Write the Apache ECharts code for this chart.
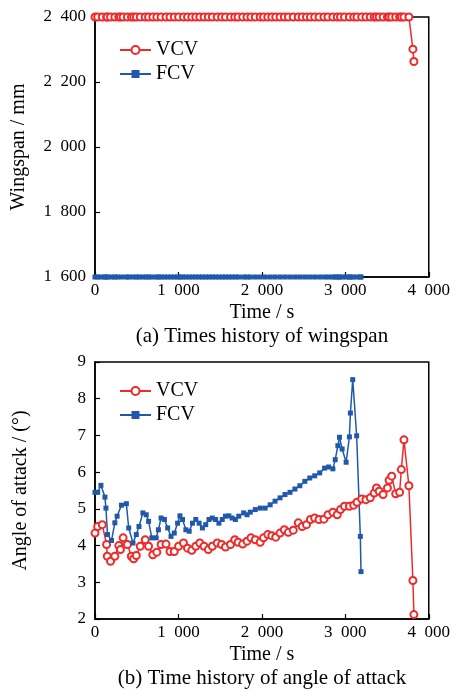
<!DOCTYPE html>
<html>
<head>
<meta charset="utf-8">
<script src="https://cdn.jsdelivr.net/npm/echarts@6/dist/echarts.min.js"></script>
<style>
  html, body { margin: 0; padding: 0; background: #fff; }
  #chart { width: 453px; height: 691px; }
</style>
</head>
<body>
<div id="chart"></div>
<script>
// sample times (s)
var vcvTime = [0, 32, 87, 139, 147, 186, 238, 285, 305, 337, 388, 436, 463, 495, 542, 602, 642, 693, 741, 792,
  851, 899, 950, 1002, 1061, 1109, 1160, 1208, 1256, 1307, 1358, 1406, 1465, 1517, 1564, 1624, 1675, 1715, 1770, 1822,
  1869, 1921, 1980, 2020, 2071, 2119, 2166, 2218, 2269, 2317, 2376, 2436, 2483, 2535, 2582, 2633, 2685, 2744, 2792, 2851,
  2903, 2942, 2990, 3049, 3101, 3140, 3196, 3247, 3299, 3346, 3374, 3406, 3453, 3505, 3525, 3556, 3604, 3651, 3671, 3703,
  3762, 3810, 3822];
var fcvTime = [0, 32, 71, 119, 131, 150, 198, 238, 265, 317, 376, 404, 455, 495, 527, 574, 614, 642, 681, 733,
  760, 792, 832, 871, 911, 950, 990, 1018, 1049, 1089, 1129, 1168, 1208, 1248, 1287, 1327, 1366, 1406, 1445, 1485,
  1525, 1564, 1604, 1643, 1683, 1723, 1782, 1822, 1861, 1921, 1980, 2039, 2099, 2158, 2218, 2277, 2337, 2396, 2455, 2515,
  2574, 2633, 2693, 2752, 2800, 2851, 2879, 2911, 2930, 2962, 3010, 3049, 3061, 3089, 3136, 3180, 3188];

// (a) wingspan, mm
var vcvSpan = [2400, 2400, 2400, 2400, 2400, 2400, 2400, 2400, 2400, 2400, 2400, 2400, 2400, 2400, 2400, 2400, 2400, 2400, 2400, 2400,
  2400, 2400, 2400, 2400, 2400, 2400, 2400, 2400, 2400, 2400, 2400, 2400, 2400, 2400, 2400, 2400, 2400, 2400, 2400, 2400,
  2400, 2400, 2400, 2400, 2400, 2400, 2400, 2400, 2400, 2400, 2400, 2400, 2400, 2400, 2400, 2400, 2400, 2400, 2400, 2400,
  2400, 2400, 2400, 2400, 2400, 2400, 2400, 2400, 2400, 2400, 2400, 2400, 2400, 2400, 2400, 2400, 2400, 2400, 2400, 2400,
  2400, 2301, 2263];
var fcvSpan = [1600, 1600, 1600, 1600, 1600, 1600, 1600, 1600, 1600, 1600, 1600, 1600, 1600, 1600, 1600, 1600, 1600, 1600, 1600, 1600,
  1600, 1600, 1600, 1600, 1600, 1600, 1600, 1600, 1600, 1600, 1600, 1600, 1600, 1600, 1600, 1600, 1600, 1600, 1600, 1600,
  1600, 1600, 1600, 1600, 1600, 1600, 1600, 1600, 1600, 1600, 1600, 1600, 1600, 1600, 1600, 1600, 1600, 1600, 1600, 1600,
  1600, 1600, 1600, 1600, 1600, 1600, 1600, 1600, 1600, 1600, 1600, 1600, 1600, 1600, 1600, 1600, 1600];

// (b) angle of attack, deg
var vcvAoa = [4.34, 4.52, 4.57, 4.03, 3.71, 3.57, 3.71, 4.00, 3.89, 4.21, 4.03, 3.71, 3.64, 3.73, 3.98, 4.16, 3.98, 3.75, 3.82, 4.03,
  4.04, 3.84, 3.84, 3.98, 4.07, 3.93, 3.87, 3.98, 4.07, 3.98, 3.89, 3.98, 4.07, 4.03, 3.96, 4.03, 4.16, 4.09, 4.04, 4.12,
  4.21, 4.16, 4.09, 4.21, 4.30, 4.27, 4.23, 4.34, 4.43, 4.36, 4.42, 4.62, 4.52, 4.57, 4.71, 4.75, 4.71, 4.72, 4.84, 4.91,
  4.84, 4.98, 5.07, 5.07, 5.10, 5.18, 5.27, 5.25, 5.30, 5.43, 5.57, 5.48, 5.39, 5.57, 5.78, 5.89, 5.41, 5.45, 6.07, 6.88,
  5.63, 3.05, 2.12];
var fcvAoa = [5.45, 5.45, 5.64, 5.32, 5.02, 4.30, 4.14, 4.62, 4.80, 5.10, 5.14, 4.48, 4.07, 4.30, 4.52, 4.89, 4.84, 4.66, 4.21, 4.21,
  4.43, 4.75, 4.71, 4.48, 4.25, 4.34, 4.61, 4.81, 4.71, 4.43, 4.39, 4.61, 4.71, 4.61, 4.48, 4.57, 4.71, 4.75, 4.71, 4.61,
  4.71, 4.80, 4.81, 4.75, 4.71, 4.80, 4.89, 4.84, 4.91, 4.98, 5.02, 5.02, 5.11, 5.21, 5.30, 5.39, 5.45, 5.54, 5.63, 5.75,
  5.84, 5.90, 5.98, 6.11, 6.14, 6.09, 6.34, 6.72, 6.95, 6.63, 6.27, 6.96, 7.61, 8.52, 6.99, 4.25, 3.29];

var RED = '#ee2a2a';
var BLUE = '#2059ab';
var FONT = "'Liberation Serif', 'Times New Roman', serif";

function pairs(xs, ys) {
    var out = [];
    for (var i = 0; i < xs.length; i++) out.push([xs[i], ys[i]]);
    return out;
}

// "2400" -> "2 400"
function thousands(v) {
    return String(v).replace(/\B(?=(\d{3})+(?!\d))/g, '\u2002');
}

var myChart = echarts.init(document.getElementById('chart'));

function xAxisOf(idx) {
    return {
        gridIndex: idx,
        type: 'value',
        min: 0,
        max: 4000,
        interval: 1000,
        name: 'Time / s',
        nameLocation: 'middle',
        nameGap: 26,
        nameTextStyle: { fontFamily: FONT, fontSize: 20, color: '#000' },
        axisLine: { lineStyle: { color: '#000', width: 1.5 } },
        axisTick: { inside: true, length: 5, lineStyle: { color: '#000', width: 1.2 } },
        axisLabel: { margin: 5, fontFamily: FONT, fontSize: 17, color: '#000', formatter: thousands },
        splitLine: { show: false }
    };
}

function yAxisOf(idx, min, max, step, name, gap) {
    return {
        gridIndex: idx,
        type: 'value',
        min: min,
        max: max,
        interval: step,
        name: name,
        nameLocation: 'middle',
        nameGap: gap,
        nameTextStyle: { fontFamily: FONT, fontSize: 20, color: '#000' },
        axisLine: { lineStyle: { color: '#000', width: 1.5 } },
        axisTick: { inside: true, length: 5, lineStyle: { color: '#000', width: 1.2 } },
        axisLabel: { margin: 9, fontFamily: FONT, fontSize: 17, color: '#000', formatter: thousands },
        splitLine: { show: false }
    };
}

function vcvSeries(idx, data) {
    return {
        name: 'VCV',
        type: 'line',
        xAxisIndex: idx,
        yAxisIndex: idx,
        data: data,
        clip: false,
        symbol: 'emptyCircle',
        symbolSize: 7,
        color: RED,
        lineStyle: { color: RED, width: 1.5 },
        itemStyle: { color: RED, borderColor: RED, borderWidth: 1.2 },
        emphasis: { disabled: true }
    };
}

function fcvSeries(idx, data) {
    return {
        name: 'FCV',
        type: 'line',
        xAxisIndex: idx,
        yAxisIndex: idx,
        data: data,
        clip: false,
        symbol: 'rect',
        symbolSize: 5,
        color: BLUE,
        lineStyle: { color: BLUE, width: 1.5 },
        itemStyle: { color: BLUE },
        emphasis: { disabled: true }
    };
}

function legendAt(top) {
    return {
        orient: 'vertical',
        left: 114,
        top: top,
        itemWidth: 31,
        itemHeight: 10,
        itemGap: 4,
        textStyle: { fontFamily: FONT, fontSize: 20, color: '#000' },
        data: ['VCV', 'FCV']
    };
}

var option = {
    animation: false,
    backgroundColor: '#fff',
    grid: [
        { left: 95, top: 17, width: 337, height: 260, show: true, borderColor: '#000', borderWidth: 1.5, backgroundColor: 'transparent' },
        { left: 95, top: 362, width: 337, height: 257, show: true, borderColor: '#000', borderWidth: 1.5, backgroundColor: 'transparent' }
    ],
    legend: [legendAt(35), legendAt(376)],
    xAxis: [xAxisOf(0), xAxisOf(1)],
    yAxis: [
        yAxisOf(0, 1600, 2400, 200, 'Wingspan / mm', 66),
        yAxisOf(1, 2, 9, 1, 'Angle of attack / (\u00b0)', 64)
    ],
    series: [
        vcvSeries(0, pairs(vcvTime, vcvSpan)),
        fcvSeries(0, pairs(fcvTime, fcvSpan)),
        vcvSeries(1, pairs(vcvTime, vcvAoa)),
        fcvSeries(1, pairs(fcvTime, fcvAoa))
    ],
    graphic: [
        { type: 'text', x: 262, y: 336, style: { text: '(a) Times history of wingspan', font: '21px ' + FONT, fill: '#000', align: 'center', verticalAlign: 'middle' } },
        { type: 'text', x: 262, y: 678, style: { text: '(b) Time history of angle of attack', font: '21px ' + FONT, fill: '#000', align: 'center', verticalAlign: 'middle' } }
    ]
};

myChart.setOption(option);
</script>
</body>
</html>
